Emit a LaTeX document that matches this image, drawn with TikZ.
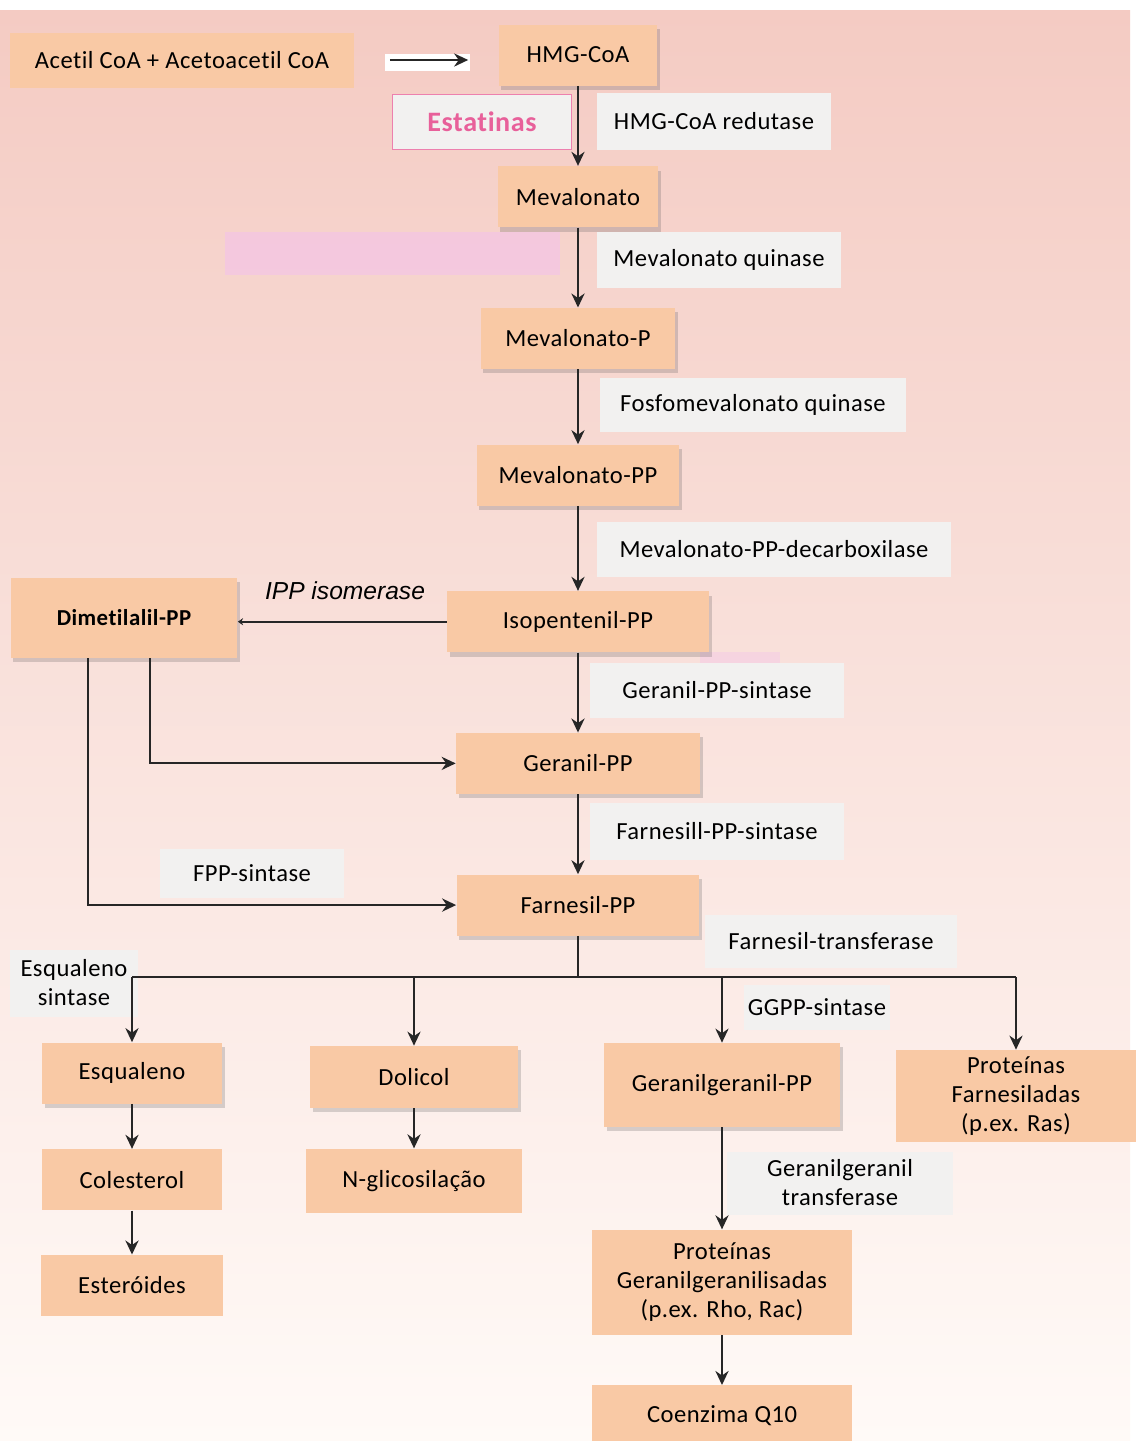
\documentclass[tikz,border=0pt]{standalone}
\usepackage{fontspec}
\setmainfont[Ligatures={NoCommon}, LetterSpace=2]{Carlito}
\newfontfamily\arialfont{Liberation Sans}
\usepackage{tikz}
\usetikzlibrary{positioning}
\usetikzlibrary{arrows.meta}
\usetikzlibrary{shadows}
\definecolor{peach}{HTML}{F9C9A5}
\definecolor{enzgray}{HTML}{F2F1F0}
\definecolor{bgtop}{HTML}{F4CBC3}
\definecolor{bgbot}{HTML}{FFFAF7}
\definecolor{statpink}{HTML}{E8609A}
\definecolor{smear}{HTML}{F3C2EA}

\begin{document}
\begin{tikzpicture}[
  x=0.02cm, y=-0.02cm,
  every node/.style={font=\fontsize{14}{16.5}\selectfont},
  box/.style={
    fill=peach, align=center, inner sep=2pt,
    minimum height=1.22cm
  },
  shbox/.style={
    box, drop shadow={shadow xshift=1.5pt, shadow yshift=-2.5pt, opacity=0.22, fill=black!70}
  },
  enz/.style={
    fill=enzgray, align=center, inner sep=2pt,
    minimum height=1.1cm
  },
  arrow/.style={-{Stealth[length=8pt,width=7.5pt]}, line width=1.1pt, black!85}
]
\useasboundingbox (0,0) rectangle (1137,1441);

% Background
\fill[white] (0,0) rectangle (1137,1441);
\shade[top color=bgtop, bottom color=bgbot] (0,10) rectangle (1130,1441);
\fill[smear, opacity=0.6] (225,232) rectangle (560,275);
\fill[smear, opacity=0.4] (700,652) rectangle (780,664);
\fill[white] (385,54) rectangle (470,71);

% Nodes
\node[box, minimum width=6.9cm, minimum height=1.1cm] (acetil) at (182,60) {Acetil CoA + Acetoacetil CoA};
\node[shbox, minimum width=3.18cm] (hmg) at (578,55) {HMG-CoA};
\node[shbox, minimum width=3.22cm, below=1.6cm of hmg] (mev) {Mevalonato};
\node[shbox, minimum width=3.9cm, below=1.6cm of mev] (mevp) {Mevalonato-P};
\node[shbox, minimum width=4.06cm, below=1.5cm of mevp] (mevpp) {Mevalonato-PP};
\node[shbox, minimum width=5.24cm, below=1.7cm of mevpp] (iso) {Isopentenil-PP};
\node[shbox, minimum width=4.88cm, below=1.6cm of iso] (ger) {Geranil-PP};
\node[shbox, minimum width=4.86cm, below=1.6cm of ger] (far) {Farnesil-PP};
\node[shbox, minimum width=4.54cm, minimum height=1.6cm, font=\fontsize{13}{15.5}\selectfont\bfseries] (dim) at (124,618) {Dimetilalil-PP};

\node[draw=statpink!80, fill=enzgray, line width=0.6pt, minimum width=3.58cm, minimum height=1.1cm,
  text=statpink, font=\fontsize{16}{18}\selectfont\bfseries] (stat) at (482,122) {Estatinas};

\node[shbox, minimum width=3.6cm] (esq) at (132,1073) {Esqualeno};
\node[box, minimum width=3.62cm, below=0.9cm of esq] (col) {Colesterol};
\node[box, minimum width=3.64cm, below=0.88cm of col] (est) {Esteróides};
\node[shbox, minimum width=4.16cm, minimum height=1.24cm] (dol) at (414,1077) {Dolicol};
\node[box, minimum width=4.32cm, minimum height=1.28cm, below=0.8cm of dol] (ngl) {N-glicosilação};
\node[shbox, minimum width=4.72cm, minimum height=1.68cm] (ggpp) at (722,1085) {Geranilgeranil-PP};
\node[box, minimum width=5.2cm, minimum height=2.1cm, below=2.04cm of ggpp] (protgg) {Proteínas\\Geranilgeranilisadas\\(p.ex. Rho, Rac)};
\node[box, minimum width=5.2cm, minimum height=1.2cm, below=1.0cm of protgg] (coq) {Coenzima Q10};
\node[box, minimum width=4.82cm, minimum height=1.84cm] (protf) at (1016,1096) {Proteínas\\Farnesiladas\\(p.ex. Ras)};

% Enzymes
\node[enz, minimum width=4.7cm, minimum height=1.14cm] (e1) at (714,121) {HMG-CoA redutase};
\node[enz, minimum width=4.9cm, minimum height=1.12cm] (e2) at (719,260) {Mevalonato quinase};
\node[enz, minimum width=6.14cm, minimum height=1.08cm] (e3) at (753,405) {Fosfomevalonato quinase};
\node[enz, minimum width=7.1cm] (e4) at (774,549) {Mevalonato-PP-decarboxilase};
\node[enz, minimum width=5.1cm] (e5) at (717,690) {Geranil-PP-sintase};
\node[enz, minimum width=5.1cm, minimum height=1.14cm] (e6) at (717,831) {Farnesill-PP-sintase};
\node[enz, minimum width=3.7cm, minimum height=0.98cm] (e7) at (252,873) {FPP-sintase};
\node[enz, minimum width=5.06cm, minimum height=1.06cm] (e8) at (831,941) {Farnesil-transferase};
\node[enz, minimum width=2.56cm, minimum height=1.34cm] (e9) at (74,983) {Esqualeno\\sintase};
\node[enz, minimum width=2.9cm, minimum height=0.9cm] (e10) at (817,1007) {GGPP-sintase};
\node[enz, minimum width=4.52cm, minimum height=1.26cm] (e11) at (840,1183) {Geranilgeranil\\transferase};
\node[font=\fontsize{14}{16.5}\selectfont\arialfont\itshape] (ipp) at (345,591) {IPP isomerase};

% Arrows
\draw[arrow, shorten <=0.7cm, shorten >=0.6cm] (acetil.east) -- (acetil.east -| hmg.west);
\draw[arrow] (hmg) -- (mev);
\draw[arrow] (mev) -- (mevp);
\draw[arrow] (mevp) -- (mevpp);
\draw[arrow] (mevpp) -- (iso);
\draw[arrow] (iso) -- (ger);
\draw[arrow] (ger) -- (far);
\draw[-{Stealth[length=3pt,width=4pt]}, line width=1.1pt, black!85] (iso.west) -- (iso.west -| dim.east);
\draw[arrow] ([xshift=0.52cm]dim.south) |- (ger);
\draw[arrow] ([xshift=-0.72cm]dim.south) |- (far);

\coordinate (split) at (578,977);
\draw[line width=1.1pt, black!85] (far) -- (split);
\draw[line width=1.1pt, black!85] (split -| esq) -- (split -| protf);
\foreach \n in {esq,dol,ggpp,protf}
  \draw[arrow] (split -| \n) -- (\n);
\draw[arrow] (esq) -- (col);
\draw[arrow] (col) -- (est);
\draw[arrow] (dol) -- (ngl);
\draw[arrow] (ggpp) -- (protgg);
\draw[arrow] (protgg) -- (coq);
\end{tikzpicture}
\end{document}
